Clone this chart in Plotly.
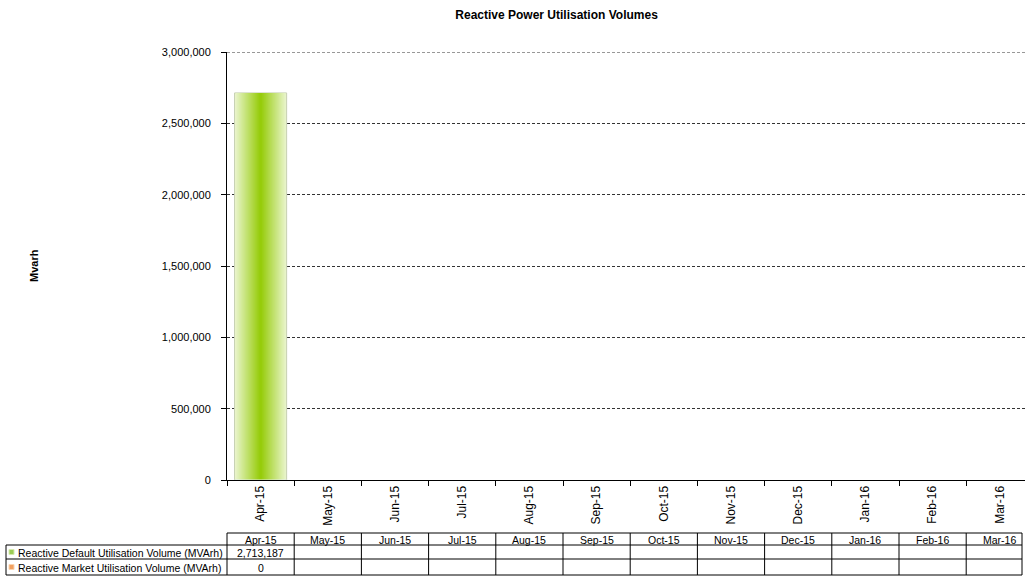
import plotly.graph_objects as go

months = ["Apr-15", "May-15", "Jun-15", "Jul-15", "Aug-15", "Sep-15",
          "Oct-15", "Nov-15", "Dec-15", "Jan-16", "Feb-16", "Mar-16"]
default_volume = [2713187, None, None, None, None, None, None, None, None, None, None, None]
market_volume = [0, None, None, None, None, None, None, None, None, None, None, None]
series_names = ["Reactive Default Utilisation Volume (MVArh)",
                "Reactive Market Utilisation Volume (MVArh)"]
y_ticks = [0, 500000, 1000000, 1500000, 2000000, 2500000, 3000000]

FONT = "Liberation Sans, Arial, sans-serif"
W, H = 1025, 577
L, R, T, B = 227, 0, 52, 97
PW, PH = W - L - R, H - T - B
X0, X1 = -0.5, 11.375
Y1 = 3000000


def px_x(p):
    return (p - L) / PW


def px_y(p):
    return (H - B - p) / PH


def cat_x(u):
    return (u - X0) / (X1 - X0)


fig = go.Figure()

# gradient bar built from concentric overlaid bars
N = 26
light = (234, 245, 205)
dark = (150, 204, 10)
full_w = 0.775
for k in range(N):
    t = k / (N - 1)
    c = tuple(int(round(light[i] + (dark[i] - light[i]) * t)) for i in range(3))
    w = full_w * (1 - k / N)
    fig.add_trace(go.Bar(
        x=months, y=default_volume, width=w,
        marker=dict(color="rgb(%d,%d,%d)" % c,
                    line=dict(color="#c6d0b2" if k == 0 else "rgba(0,0,0,0)",
                              width=1 if k == 0 else 0)),
        showlegend=False, hoverinfo="skip" if k else "y",
        name=series_names[0]))
fig.add_trace(go.Bar(x=months, y=market_volume, width=full_w,
                     marker=dict(color="#f4a46a"), showlegend=False,
                     name=series_names[1]))

shapes = []
ann = []
line = dict(color="black", width=1)

# top gridline (at the range edge)
shapes.append(dict(type="line", xref="paper", yref="y", x0=0, x1=1, y0=Y1, y1=Y1,
                   line=dict(color="#333333", width=1, dash="3px,2px"), layer="below"))

y_hdr_top, y_hdr_bot, y_r1_bot, y_r2_bot = 533, 545, 559, 575
x_tab_left, x_tab_right = 6, 1022
# horizontal lines
shapes.append(dict(type="line", xref="paper", yref="paper", x0=px_x(L), x1=px_x(x_tab_right),
                   y0=px_y(y_hdr_top), y1=px_y(y_hdr_top), line=line))
for yy in [y_hdr_bot, y_r1_bot, y_r2_bot]:
    shapes.append(dict(type="line", xref="paper", yref="paper", x0=px_x(x_tab_left), x1=px_x(x_tab_right),
                       y0=px_y(yy), y1=px_y(yy), line=line))
# vertical lines
shapes.append(dict(type="line", xref="paper", yref="paper", x0=px_x(x_tab_left), x1=px_x(x_tab_left),
                   y0=px_y(y_hdr_bot), y1=px_y(y_r2_bot), line=line))
for k in range(len(months)):
    xp = cat_x(k - 0.5)
    shapes.append(dict(type="line", xref="paper", yref="paper", x0=xp, x1=xp,
                       y0=px_y(y_hdr_top), y1=px_y(y_r2_bot), line=line))
shapes.append(dict(type="line", xref="paper", yref="paper", x0=px_x(x_tab_right), x1=px_x(x_tab_right),
                   y0=px_y(y_hdr_top), y1=px_y(y_r2_bot), line=line))

# legend keys
for yy, col, bcol in [((y_hdr_bot + y_r1_bot) / 2, "#9ccc55", "#d6eab0"),
                      ((y_r1_bot + y_r2_bot) / 2, "#f2a060", "#f9d4b0")]:
    shapes.append(dict(type="rect", xref="paper", yref="paper",
                       x0=px_x(9), x1=px_x(14), y0=px_y(yy - 2.5), y1=px_y(yy + 2.5),
                       fillcolor=col, line=dict(color=bcol, width=1)))

tf = dict(family=FONT, size=10.5, color="black")
for k, m in enumerate(months):
    ann.append(dict(x=m, xref="x", y=px_y((y_hdr_top + y_hdr_bot) / 2 + 0.5), yref="paper",
                    text=m, showarrow=False, font=tf, yanchor="middle"))
for row, (vals, yy) in enumerate([(default_volume, (y_hdr_bot + y_r1_bot) / 2),
                                  (market_volume, (y_r1_bot + y_r2_bot) / 2)]):
    ann.append(dict(x=px_x(16), xref="paper", y=px_y(yy + 0.5), yref="paper",
                    text=series_names[row], showarrow=False, font=tf,
                    xanchor="left", yanchor="middle"))
    for m, v in zip(months, vals):
        if v is not None:
            ann.append(dict(x=m, xref="x", y=px_y(yy + 0.5), yref="paper",
                            text=f"{v:,}", showarrow=False, font=tf, yanchor="middle"))

ann.append(dict(x=px_x(26), xref="paper", y=0.5, yref="paper", text="<b>Mvarh</b>",
                textangle=-90, showarrow=False, font=dict(family=FONT, size=11, color="black")))

fig.update_layout(
    width=W, height=H,
    margin=dict(l=L, r=R, t=T, b=B, pad=0),
    paper_bgcolor="white", plot_bgcolor="white",
    barmode="overlay", bargap=0.2,
    font=dict(family=FONT, size=11, color="black"),
    title=dict(text="<b>Reactive Power Utilisation Volumes</b>", x=0.543, xanchor="center",
               y=1 - 15 / H, yanchor="middle", yref="container",
               font=dict(family=FONT, size=12, color="black")),
    xaxis=dict(type="category", categoryorder="array", categoryarray=months,
               range=[X0, X1], showline=True, linecolor="black", linewidth=1,
               ticks="outside", ticklen=5, tickcolor="black", tickson="boundaries",
               tickangle=-90, tickfont=dict(family=FONT, size=12, color="black"),
               showgrid=False, zeroline=False),
    yaxis=dict(range=[0, Y1], tickvals=y_ticks, tickformat=",",
               showline=True, linecolor="black", linewidth=1,
               ticks="outside", ticklen=5, tickcolor="black", ticklabelstandoff=8,
               showgrid=True, gridcolor="#333333", gridwidth=1, griddash="3px,2px",
               zeroline=False, tickfont=dict(family=FONT, size=11, color="black")),
    shapes=shapes, annotations=ann,
)

fig.write_html("out.html", config={"displayModeBar": False},
               post_script="document.body.style.margin='0';document.body.style.overflow='hidden';")
